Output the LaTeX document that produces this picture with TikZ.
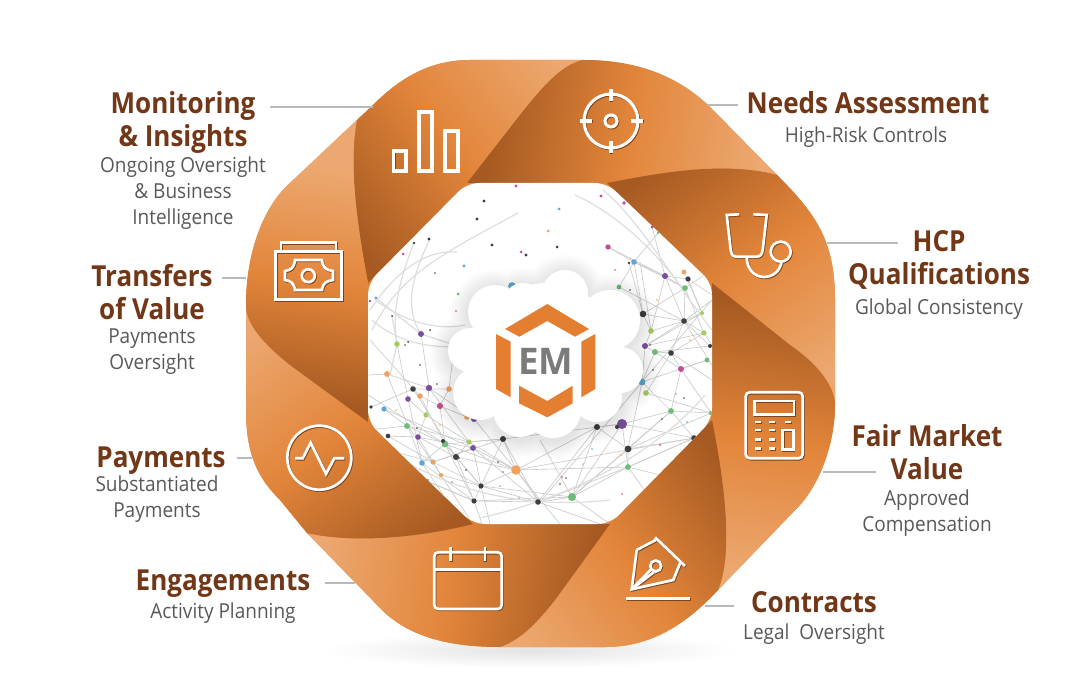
\documentclass[tikz,border=0pt]{standalone}
\usepackage{fontspec}
\setmainfont{Open Sans}
\newfontfamily\tfont[FakeStretch=0.9]{Open Sans}
\newfontfamily\sfont[FakeStretch=0.92]{Open Sans}
\newfontfamily\emfont{Open Sans}
\definecolor{ribd}{HTML}{A65A22}
\definecolor{ribm}{HTML}{E2853A}
\definecolor{ribl}{HTML}{ECA870}
\definecolor{ttl}{HTML}{723717}
\definecolor{subt}{HTML}{58595B}
\definecolor{lead}{HTML}{B9B9BB}
\definecolor{logoO}{HTML}{E47F32}
\definecolor{logoG}{HTML}{7B7B7D}
\definecolor{dk}{HTML}{3E3E42}
\definecolor{pk}{HTML}{C84B96}
\definecolor{bl}{HTML}{5BA7D6}
\definecolor{og}{HTML}{EFA25F}
\definecolor{gn}{HTML}{6FBB78}
\definecolor{pu}{HTML}{7B4E9E}
\definecolor{lm}{HTML}{A5CC62}
\definecolor{iconcol}{HTML}{FFFFFF}
\pgfdeclarehorizontalshading{rib}{100bp}{color(0bp)=(ribd); color(30bp)=(ribd); color(50bp)=(ribm); color(70bp)=(ribl); color(100bp)=(ribl)}
\newcommand\ribbon[5]{%
 \begin{scope}
 \clip #5;
 \pgfmathsetmacro\ax{(#3-#1)*0.75}%
 \pgfmathsetmacro\ay{-(#4-#2)*0.75}%
 \pgfmathsetmacro\len{veclen(\ax,\ay)}%
 \pgfmathsetmacro\ma{\ax/40.15}%
 \pgfmathsetmacro\mb{\ay/40.15}%
 \pgfmathsetmacro\mc{-\ay/\len*20}%
 \pgfmathsetmacro\md{\ax/\len*20}%
 \pgfmathsetmacro\cx{(#1+#3)/2*0.75}%
 \pgfmathsetmacro\cy{-(#2+#4)/2*0.75}%
 \pgftransformcm{\ma}{\mb}{\mc}{\md}{\pgfpoint{\cx pt}{\cy pt}}%
 \pgflowlevelsynccm
 \pgfuseshading{rib}%
 \end{scope}}
\newcommand\cloudcircles[1]{%
 (565,293) circle[radius=23+#1] (523,303) circle[radius=20+#1] (495,312) circle[radius=27+#1]
 (470,350) circle[radius=22+#1] (480,393) circle[radius=27+#1] (520,410) circle[radius=27+#1]
 (553,410) circle[radius=28+#1] (597,397) circle[radius=25+#1] (620,370) circle[radius=23+#1]
 (610,320) circle[radius=30+#1] (547,353) circle[radius=70+#1]}
\newcommand\iconset{%
 % bars
 \draw[ic] (393.5,151) rectangle (406,171);
 \draw[ic] (419,112) rectangle (432,171);
 \draw[ic] (445,131) rectangle (458,171);
 % target
 \draw[ic] (611,121) circle[radius=27];
 \draw[ic] (611,121) circle[radius=6];
 \draw[ic] (580,121) -- (592,121) (631,121) -- (643,121) (611,89) -- (611,101) (611,141) -- (611,153);
 % stethoscope
 \draw[icthin] (739.3,214.3) -- (726.7,215) -- (730.7,250) .. controls (731.5,255) and (733,256.7) .. (737,256.7) -- (756,256.7) .. controls (760,256.7) and (762,255) .. (762.7,250) -- (766.7,215) -- (753.3,214.3);
 \draw[icthin] (746.7,257.3) .. controls (747,270) and (755,277) .. (764,277) .. controls (773,277) and (780,271) .. (781.7,261.7);
 \draw[icthin] (780.7,251.7) circle[radius=10];
 % banknote
 \draw[icthin] (275.7,251.7) rectangle (341.7,299.3);
 \draw[icthin] (281,251.7) -- (281,242.3) -- (336,242.3) -- (336,251.7);
 \draw[icthin] (295,260) -- (322,260) .. controls (323,268) and (326,270) .. (333,271) -- (333,280) .. controls (326,281) and (323,283) .. (322,290) -- (295,290) .. controls (294,283) and (291,281) .. (285,280) -- (285,271) .. controls (291,270) and (294,268) .. (295,260) -- cycle;
 \draw[icthin] (308.3,275.7) circle[radius=6.5];
 % pulse
 \draw[icthin] (319.3,457.7) circle[radius=32];
 \draw[icthin] (295,458.3) -- (302.7,458.3) -- (310.7,442.7) -- (326,474) -- (334.3,458.3) -- (344.3,458.3);
 % calendar
 \draw[icthin,rounded corners=3pt] (434.3,552.3) rectangle (501.7,609);
 \draw[icthin] (434.3,569.3) -- (501.7,569.3);
 \draw[icthin] (450.7,546.7) -- (450.7,560.7) (485,546.7) -- (485,560.7);
 % calculator
 \draw[icthin,rounded corners=3pt] (745.7,392.3) rectangle (802.7,458.3);
 \draw[icthin] (754.3,401) rectangle (794,414.3);
 \foreach \bx in {758.3,772.3} \foreach \by in {422,430,439.3,448.3}
   \fill[iconcol] (\bx-3,\by-1.3) rectangle (\bx+3,\by+1.3);
 \fill[iconcol] (785.3,420.7) rectangle (791.3,423.3);
 \draw[icthin] (782.7,430) rectangle (793.3,449.3);
 % nib
 \draw[icthin] (655,537.3) -- (685,566);
 \draw[icthin] (636.7,550) -- (655.7,540) (680,563.3) -- (673.3,580) -- (631.7,589.3) -- (636.7,550);
 \draw[icthin] (655.7,566) circle[radius=5.5];
 \draw[icthin] (631.7,589.3) -- (651,569.5);
 \draw[icthin] (631.7,589.3) -- (654,572);
 \draw[icthin] (626,598.3) -- (690,598.3);
}
\begin{document}
\begin{tikzpicture}[x=0.75pt,y=-0.75pt,
 ic/.style={draw=iconcol,line width=2.3pt},
 icthin/.style={draw=iconcol,line width=2pt},
 leader/.style={draw=lead,line width=1.5pt},
 net/.style={draw=black!20,line width=0.5pt},
 nettwo/.style={draw=black!13,line width=0.9pt},
 ttlnode/.style={text=ttl,font=\tfont\bfseries\fontsize{21.7}{24.75}\selectfont,align=center,inner sep=0pt},
 subnode/.style={text=subt,font=\sfont\fontsize{15.5}{19.5}\selectfont,align=center,inner sep=0pt},
 logopiece/.style={fill=logoO}]
\useasboundingbox (0,0) rectangle (1087,673);
\fill[white] (0,0) rectangle (1087,673);
% ground shadow
\shade[inner color=black!11,outer color=white] (530,650) ellipse[x radius=205,y radius=18];
% silhouette
\fill[ribm] (583,60) .. controls (640,60) and (680,78) .. (710,107) -- (777,175) .. controls (815,213) and (835,240) .. (835,300) -- (835,405) .. controls (835,440) and (822,480) .. (800,505) -- (718,590) .. controls (690,620) and (655,647) .. (605,647) -- (500,647) .. controls (450,647) and (410,637) .. (383,611) -- (307,533) -- (280,500) .. controls (258,478) and (246,455) .. (246,410) -- (246,305) .. controls (246,250) and (265,205) .. (290,183) -- (357,120) -- (373,105) .. controls (400,78) and (430,60) .. (470,60) -- cycle;
% ribbons
\ribbon{336}{213}{552}{54}{(368,283) .. controls (358,230) and (348,165) .. (357,120) -- (373,105) .. controls (400,78) and (430,60) .. (470,60) -- (583,60) .. controls (560,65) and (540,90) .. (520,115) -- (467,183) -- cycle}
\ribbon{495}{110}{760}{150}{(467,183) -- (520,115) .. controls (540,90) and (560,65) .. (583,60) .. controls (640,60) and (680,78) .. (710,107) -- (777,175) .. controls (720,160) and (650,175) .. (607,183) -- cycle}
\ribbon{680}{149}{839}{365}{(607,183) .. controls (650,175) and (720,160) .. (777,175) .. controls (815,213) and (835,240) .. (835,300) -- (835,405) .. controls (835,385) and (815,362) .. (790,345) -- (712,283) -- cycle}
\ribbon{783}{308}{743}{573}{(712,283) -- (790,345) .. controls (815,362) and (835,385) .. (835,405) .. controls (835,440) and (822,480) .. (800,505) -- (718,590) .. controls (735,550) and (722,470) .. (712,420) -- cycle}
\ribbon{744}{493}{528}{652}{(712,420) .. controls (722,470) and (735,550) .. (718,590) .. controls (690,620) and (655,647) .. (605,647) -- (500,647) .. controls (520,640) and (535,625) .. (555,600) -- (610,524) -- cycle}
\ribbon{585}{596}{320}{556}{(610,524) -- (555,600) .. controls (535,625) and (520,640) .. (500,647) .. controls (450,647) and (410,637) .. (383,611) -- (307,533) .. controls (360,545) and (430,535) .. (473,524) -- cycle}
\ribbon{400}{557}{241}{341}{(473,524) .. controls (430,535) and (360,545) .. (307,533) -- (280,500) .. controls (258,478) and (246,455) .. (246,410) -- (246,305) .. controls (246,325) and (265,345) .. (290,365) -- (368,422) -- cycle}
\ribbon{297}{398}{333}{170}{(368,422) -- (290,365) .. controls (265,345) and (246,325) .. (246,305) .. controls (246,250) and (265,205) .. (290,183) -- (357,120) .. controls (348,165) and (358,230) .. (368,283) -- cycle}
% inner panel with network
\begin{scope}
\clip[rounded corners=9pt] (467,183) -- (607,183) -- (712,283) -- (712,420) -- (610,524) -- (473,524) -- (368,422) -- (368,283) -- cycle;
\fill[white] (360,175) rectangle (720,530);
\draw[net] (371,407) -- (413,389) -- (449,389);
\draw[net] (387,374) -- (429,388) -- (474,419);
\draw[net] (384,409) -- (407,426) -- (445,444) -- (481,486) -- (538,502);
\draw[net] (408,399) -- (426,415) -- (469,442) -- (516,470) -- (597,427);
\draw[net] (388,436) -- (418,437) -- (456,457) -- (474,501) -- (572,497);
\draw[net] (422,463) -- (445,444) -- (503,439) -- (622,424);
\draw[net] (433,462) -- (473,448) -- (516,470);
\draw[net] (441,475) -- (481,486);
\draw[net] (420,396) -- (440,406) -- (467,417);
\draw[net] (370,340) -- (420,396) -- (445,444) -- (474,501) -- (482,524);
\draw[net] (397,344) -- (408,399) -- (422,463) -- (460,520);
\draw[net] (421,334) -- (429,388) -- (426,415) -- (418,437) -- (441,475);
\draw[net] (368,375) -- (387,374) -- (408,426) -- (441,475) -- (470,520);
\draw[net] (368,430) -- (407,426) -- (469,442) -- (503,439);
\draw[net] (400,470) -- (474,501) -- (540,502) -- (628,467);
\draw[net] (455,340) -- (449,389) -- (440,406) -- (445,444) -- (456,457) -- (481,486) -- (490,524);
\draw[net] (503,439) -- (516,470) -- (540,502) -- (572,497) -- (628,467) -- (694,438);
\draw[net] (597,427) -- (622,424) -- (671,411) -- (711,413);
\draw[net] (597,427) -- (628,449) -- (694,438);
\draw[net] (572,497) -- (628,449) -- (642,382) -- (655,352);
\draw[net] (622,424) -- (628,467) -- (655,505);
\draw[net] (628,449) -- (671,411) -- (681,369) -- (707,360);
\draw[net] (642,382) -- (671,411) -- (694,438);
\draw[net] (646,393) -- (711,413);
\draw[net] (655,352) -- (681,369) -- (711,413);
\draw[net] (538,502) -- (597,427);
\draw[net] (516,470) -- (628,467);
\draw[net] (642,382) -- (707,360);
\draw[net] (671,353) -- (704,333) -- (712,345);
\draw[net] (645,346) -- (684,321) -- (702,313);
\draw[net] (651,331) -- (684,321) -- (712,300);
\draw[net] (643,314) -- (685,288) -- (712,270);
\draw[net] (643,314) -- (651,331) -- (645,346) -- (655,352) -- (671,353) -- (681,369);
\draw[net] (608,247) -- (634,262) -- (665,276) -- (688,279) -- (712,295);
\draw[net] (619,287) -- (634,262) -- (658,233);
\draw[net] (608,247) -- (665,276) -- (685,288) -- (704,333);
\draw[net] (629,263) -- (643,314);
\draw[net] (684,272) -- (702,313);
\draw[net] (652,227) -- (665,276) -- (684,321) -- (710,346);
\draw[net] (640,262) -- (651,331);
\draw[net] (684,321) -- (671,353);
\draw[net] (712,300) -- (642,382);
\draw[net] (572,497) -- (540,440) (572,497) -- (622,424) (516,470) -- (474,419) (503,439) -- (538,502);
\draw[net] (368,445) -- (433,462) -- (503,439) (368,395) -- (445,444) -- (516,470) -- (694,438);
\draw[net] (384,409) -- (473,448) -- (538,502) (413,389) -- (456,457) -- (516,470);
\draw[net] (388,436) -- (433,462) -- (481,486) -- (572,497) (408,426) -- (422,463) -- (474,501);
\draw[net] (418,437) -- (473,448) -- (481,486) -- (516,470) (429,388) -- (469,442) -- (456,457);
\draw[net] (503,439) -- (481,486) -- (474,501) -- (425,480) (516,470) -- (560,524) (538,502) -- (600,524);
\draw[net] (597,427) -- (572,497) -- (610,524) (628,449) -- (628,467) -- (694,438) (622,424) -- (694,438);
\draw[net] (628,449) -- (711,413) (572,497) -- (671,411) (540,502) -- (642,382) (628,467) -- (680,480);
\draw[net] (646,393) -- (671,353) -- (712,380) (642,382) -- (645,346) -- (702,313) (655,352) -- (710,346);
\draw[net] (619,287) -- (684,321) (634,262) -- (643,314) -- (684,321) -- (704,333) (665,276) -- (651,331);
\draw[net] (685,288) -- (684,321) -- (712,365) (688,279) -- (702,313) (634,262) -- (685,288) (645,346) -- (704,333);
\draw[nettwo] (370,310) .. controls (400,265) and (430,250) .. (457,252);
\draw[nettwo] (372,330) .. controls (400,275) and (440,255) .. (518,213);
\draw[nettwo] (375,300) .. controls (410,325) and (440,330) .. (465,325);
\draw[nettwo] (372,320) .. controls (400,345) and (440,350) .. (470,345);
\draw[nettwo] (414,243) .. controls (395,290) and (393,320) .. (397,344);
\draw[nettwo] (430,239) .. controls (410,280) and (405,310) .. (421,334);
\draw[nettwo] (376,298) -- (421,334) -- (470,350);
\draw[nettwo] (392,316) -- (397,344) -- (390,375);
\draw[nettwo] (603,190) .. controls (640,220) and (680,290) .. (712,330);
\draw[nettwo] (575,195) .. controls (620,215) and (665,260) .. (690,300);
\draw[nettwo] (372,440) .. controls (440,490) and (520,510) .. (610,500);
\draw[nettwo] (480,518) .. controls (560,500) and (650,460) .. (705,395);
\foreach \x/\y/\r/\c in {516/186/1.6/pk,484/201/1.7/dk,477/219/1.7/dk,429/239/1.7/dk,414/243/1.4/dk,403/254/1.5/pk,492/245/1.7/dk,521/252/1.5/pk,526/255/1.6/dk,464/266/1.6/bl,435/273/.9/dk,512/286/3.8/bl,458/294/1.5/gn,456/311/.9/pk,376/298/1.6/bl,370/301/1.4/pk,421/334/3/pu,397/344/2.8/lm,430/330/1/dk,392/316/1/dk,408/342/1/dk,
601/196/1.6/pk,624/203/1.8/pk,559/209/1.5/bl,548/231/1.5/og,557/247/1.5/dk,608/247/2.7/pk,652/227/1.5/pu,658/233/1.4/gn,634/262/2.8/bl,629/263/1.4/dk,665/276/3/pu,684/272/2.4/og,688/279/2.6/dk,685/288/2.8/gn,619/287/2.4/gn,643/314/3.3/dk,684/321/2.8/dk,651/331/2.8/lm,702/313/2/lm,704/333/2.6/lm,645/346/3/pu,710/346/2/dk,
387/374/2.9/og,413/389/2.8/dk,429/388/3.2/pu,420/396/2.8/og,408/399/2.8/pu,449/389/2.8/og,440/406/3.1/pk,426/415/2.6/lm,474/419/3/pu,467/417/2.8/og,384/409/2.6/bl,371/407/1.9/dk,407/426/2.9/gn,418/437/2.8/pu,388/436/2.3/dk,445/444/3.3/gn,443/441/2/dk,469/442/2.6/lm,473/448/2.9/pu,503/439/3/dk,456/457/3/dk,422/463/2.8/bl,433/462/2.6/og,441/475/2.1/og,516/470/4.8/og,481/486/2.6/dk,474/501/2.6/dk,538/502/2.8/dk,
655/352/3/gn,671/353/2.8/dk,681/369/3/pk,707/360/2.4/gn,642/382/3.4/bl,646/393/2.8/lm,671/411/2.9/gn,711/413/2.2/gn,622/424/5/pu,597/427/3/dk,617/427/2/dk,628/449/3.4/dk,694/438/2.8/dk,628/467/2.9/gn,572/497/4/gn,622/494/.9/pk,662/419/.9/dk,684/398/.9/dk,653/370/.9/dk,660/445/1/pk,583/464/.9/og,566/478/.9/dk,560/484/.9/dk,562/477/.9/pk,687/422/.9/bl,676/394/.9/bl,592/449/.9/bl,621/455/.9/og,
420/365/.9/dk,405/345/.9/dk,437/384/.9/dk,396/410/.9/og,417/428/.9/dk,459/458/.9/dk,466/470/.9/dk,503/472/.9/pk,498/462/.9/dk,440/425/.9/og,428/480/.9/dk,452/482/.9/bl,500/486/.9/bl,519/498/.9/gn,630/290/.9/dk,615/270/.9/pk,657/300/.9/og,650/345/.9/dk,690/340/.9/og}
  \fill[\c] (\x,\y) circle[radius=\r];
\end{scope}
% cloud with soft shadow
\begin{scope}[shift={(0,3)}]
\foreach \d in {18,16,14,12,10,8,6,4,2} {
  \fill[black,opacity=0.013] \cloudcircles{\d};
}
\end{scope}
\fill[white] \cloudcircles{0};
% logo
\fill[logopiece] (547.3,304) -- (589,329) -- (575,336.7) -- (547.3,321) -- (519.3,336.7) -- (505,329) -- cycle;
\fill[logopiece] (496,334) -- (510.7,341.7) -- (510.7,397.3) -- (496,389) -- cycle;
\fill[logopiece] (595.3,334) -- (581.3,341.7) -- (581.3,397.3) -- (595.3,389) -- cycle;
\fill[logopiece] (519,385.7) -- (547.3,401) -- (572.7,385.7) -- (572.7,403.3) -- (547.3,417.3) -- (519,403.3) -- cycle;
\node[text=logoG,font=\emfont\bfseries\fontsize{27.5}{28}\selectfont,inner sep=0pt] (emlogo) at (546,361) {EM};
% icons with faint relief, then white
\begin{scope}[shift={(0.8,0.9)}]
\colorlet{iconcol}{ribd!75!black}
\iconset
\end{scope}
\colorlet{iconcol}{white}
\iconset
% labels
\node[ttlnode] (t1) at (183,122.5) {Monitoring\\\& Insights};
\node[subnode] (s1) at (183,193) {Ongoing Oversight\\\& Business\\Intelligence};
\node[ttlnode] (t2) at (152,292.5) {Transfers\\of Value};
\node[subnode] (s2) at (152,352) {Payments\\Oversight};
\node[ttlnode] (t3) at (161,461) {Payments};
\node[subnode] (s3) at (157,499) {Substantiated\\Payments};
\node[ttlnode] (t4) at (223,584) {Engagements};
\node[subnode] (s4) at (223,613) {Activity Planning};
\node[ttlnode] (t5) at (868,103) {Needs Assessment};
\node[subnode] (s5) at (866,137) {High-Risk Controls};
\node[ttlnode] (t6) at (939,259.5) {HCP\\Qualifications};
\node[subnode] (s6) at (939,309) {Global Consistency};
\node[ttlnode] (t7) at (927,452.5) {Fair Market\\Value};
\node[subnode] (s7) at (927,513) {Approved\\Compensation};
\node[ttlnode] (t8) at (814,602) {Contracts};
\node[subnode] (s8) at (814,634) {Legal\ \ Oversight};
% leaders
\coordinate (a1) at (270,107); \coordinate (b1) at (373,107);
\coordinate (a2) at (222,278); \coordinate (b2) at (246,278);
\coordinate (a3) at (237,458); \coordinate (b3) at (252,458);
\coordinate (a4) at (325,583); \coordinate (b4) at (355,583);
\coordinate (a5) at (738,105); \coordinate (b5) at (707,105);
\coordinate (a6) at (898,243); \coordinate (b6) at (827,243);
\coordinate (a7) at (876,472); \coordinate (b7) at (823,472);
\coordinate (a8) at (734,606); \coordinate (b8) at (705,606);
\foreach \i in {1,...,8} \draw[leader] (a\i) -- (b\i);
\end{tikzpicture}
\end{document}
